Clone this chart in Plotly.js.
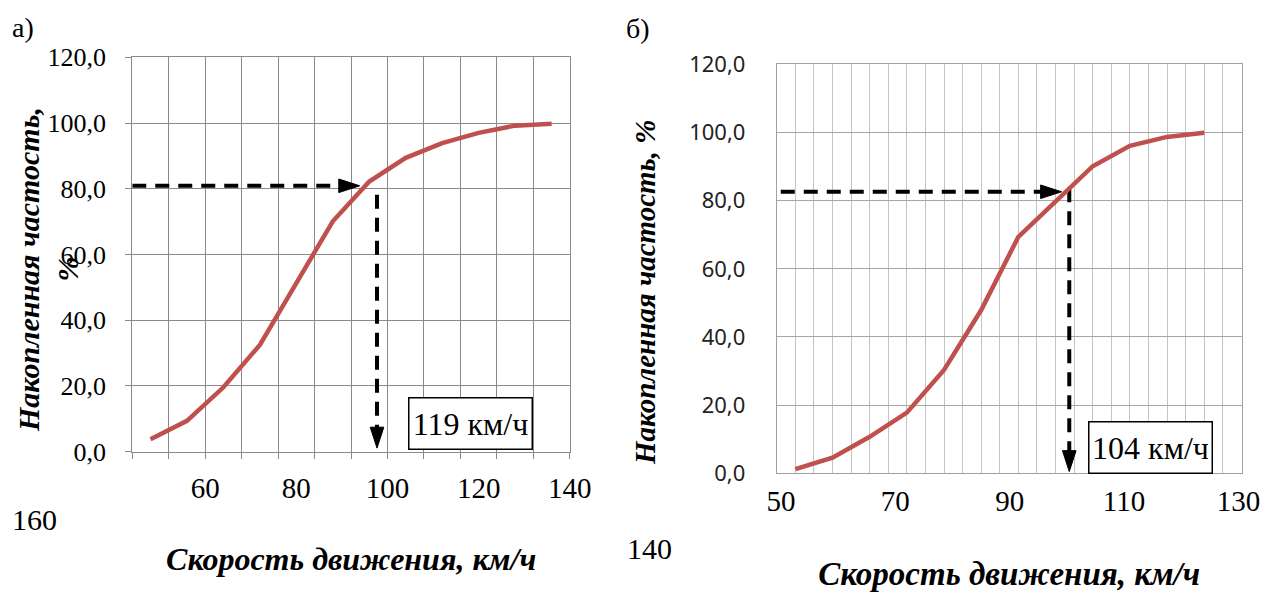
<!DOCTYPE html>
<html>
<head>
<meta charset="utf-8">
<script src="https://cdn.plot.ly/plotly-3.0.1.min.js"></script>
<style>html,body{margin:0;padding:0;background:#fff;}#chart{width:1262px;height:596px;}</style>
</head>
<body>
<div id="chart"></div>
<script>
// ---- data ----
// chart а)
const speedA = [48, 56, 64, 72, 80, 88, 96, 104, 112, 120, 128, 136];
const cumA = [3.8, 9.4, 19.6, 32.5, 51.3, 70.1, 82.2, 89.4, 93.9, 97.0, 99.2, 99.8];
const tickLabelsA = [60, 80, 100, 120, 140];
const orphanLabelA = '160';
const boxTextA = '119 км/ч';
const guideHxA = [44, 93.9], guideHyA = [80.9, 80.9];
const guideVxA = [97.7, 97.7], guideVyA = [78.2, 1.1];
// chart б)
const speedB = [52, 58.5, 65, 71.5, 78, 84.5, 91, 97.5, 104, 110.5, 117, 123.5];
const cumB = [1.2, 4.6, 10.7, 17.8, 30.3, 47.9, 69.4, 79.6, 90.1, 96.1, 98.7, 99.9];
const tickLabelsB = [50, 70, 90, 110, 130];
const orphanLabelB = '140';
const boxTextB = '104 км/ч';
const guideHxB = [49.45, 98.55], guideHyB = [82.6, 82.6];
const guideVxB = [99.9, 99.9], guideVyB = [83.6, 0.5];

const xTitle = 'Скорость движения, км/ч';
const yTitleA = 'Накопленная частость,<br>%';
const yTitleB = 'Накопленная частость, %';

// ---- styles ----
const SERIF = 'Times New Roman, Liberation Serif, DejaVu Serif, serif';
const SANS = 'Noto Sans, Open Sans, sans-serif';
const RED = '#c0504d';
const titleFont = (s) => ({family: SERIF, size: s, color: '#000', weight: 'bold', style: 'italic'});

function guide(x, y, xa, ya) {
  return {
    x: x, y: y, xaxis: xa, yaxis: ya, type: 'scatter', mode: 'lines+markers',
    line: {color: '#000', width: 4, dash: '14px,9px'},
    marker: {symbol: 'arrow', angleref: 'previous', size: [0, 22], color: '#000', opacity: 1,
             line: {width: 1, color: '#000'}},
    hoverinfo: 'skip'
  };
}

const traces = [
  {x: speedA, y: cumA, xaxis: 'x3', yaxis: 'y', type: 'scatter', mode: 'lines',
   line: {color: RED, width: 4.5}},
  guide(guideHxA, guideHyA, 'x', 'y'),
  guide(guideVxA, guideVyA, 'x', 'y'),
  {x: speedB, y: cumB, xaxis: 'x4', yaxis: 'y2', type: 'scatter', mode: 'lines',
   line: {color: RED, width: 4.5}},
  guide(guideHxB, guideHyB, 'x2', 'y2'),
  guide(guideVxB, guideVyB, 'x2', 'y2')
];

const rangeA = [44, 140.05];
const rangeB = [48.75, 130.05];

const layout = {
  width: 1262, height: 596,
  margin: {l: 0, r: 0, t: 0, b: 0},
  paper_bgcolor: '#fff', plot_bgcolor: '#fff',
  showlegend: false,
  separators: ', ',
  font: {family: SERIF, color: '#000'},
  // chart а) grid axis
  xaxis: {
    domain: [0.1048, 0.4517], anchor: 'y', range: rangeA,
    tickmode: 'linear', tick0: 44, dtick: 8, showticklabels: false,
    showgrid: true, gridcolor: '#8a8a8a', gridwidth: 1,
    ticks: 'outside', ticklen: 6, tickcolor: '#8a8a8a', tickwidth: 1,
    showline: true, linecolor: '#8a8a8a', linewidth: 1, mirror: true, zeroline: false
  },
  // chart а) label axis
  xaxis3: {
    overlaying: 'x', anchor: 'y', side: 'bottom', range: rangeA,
    tickmode: 'array', tickvals: tickLabelsA, ticktext: tickLabelsA.map(String),
    showgrid: false, ticks: '', showline: false, zeroline: false,
    ticklabelstandoff: 16, ticklabeloverflow: 'allow',
    tickfont: {family: SERIF, size: 29, color: '#000'},
    title: {text: xTitle, font: titleFont(32), standoff: 44}
  },
  yaxis: {
    domain: [0.2421, 0.9039], anchor: 'x', range: [0, 120],
    tickmode: 'linear', tick0: 0, dtick: 20, tickformat: '.1f',
    showgrid: true, gridcolor: '#8a8a8a', gridwidth: 1,
    ticks: 'outside', ticklen: 6, tickcolor: '#8a8a8a', tickwidth: 1,
    ticklabelstandoff: 14,
    tickfont: {family: SERIF, size: 26, color: '#000'},
    showline: true, linecolor: '#8a8a8a', linewidth: 1, mirror: true, zeroline: false
  },
  // chart б) grid axis
  xaxis2: {
    domain: [0.6155, 0.9839], anchor: 'y2', range: rangeB,
    tickmode: 'linear', tick0: 48.75, dtick: 3.25, showticklabels: false,
    showgrid: true, gridcolor: '#c4c4c4', gridwidth: 1,
    ticks: '', showline: true, linecolor: '#a0a0a0', linewidth: 1, mirror: true, zeroline: false
  },
  // chart б) label axis
  xaxis4: {
    overlaying: 'x2', anchor: 'y2', side: 'bottom', range: rangeB,
    tickmode: 'array', tickvals: tickLabelsB, ticktext: tickLabelsB.map(String),
    showgrid: false, ticks: '', showline: false, zeroline: false,
    ticklabelstandoff: 8, ticklabelshift: -3, ticklabeloverflow: 'allow',
    tickfont: {family: SERIF, size: 29, color: '#000'},
    title: {text: xTitle, font: titleFont(33), standoff: 45}
  },
  yaxis2: {
    domain: [0.2059, 0.8921], anchor: 'x2', range: [0, 120],
    tickmode: 'linear', tick0: 0, dtick: 20, tickformat: '.1f',
    showgrid: true, gridcolor: '#a6a6a6', gridwidth: 1,
    ticks: '', ticklabelstandoff: 26,
    tickfont: {family: SANS, size: 22, color: '#222'},
    showline: true, linecolor: '#a0a0a0', linewidth: 1, mirror: true, zeroline: false
  },
  annotations: [
    {xref: 'paper', yref: 'paper', x: 48 / 1262, y: 1 - 270 / 596, xanchor: 'center', yanchor: 'middle',
     text: yTitleA, textangle: -90, showarrow: false, font: titleFont(30)},
    {xref: 'paper', yref: 'paper', x: 645 / 1262, y: 1 - 292 / 596, xanchor: 'center', yanchor: 'middle',
     text: yTitleB, textangle: -90, showarrow: false, font: titleFont(29)},
    {xref: 'x', yref: 'y', x: 118.3, y: 8.6, xanchor: 'center', yanchor: 'middle',
     text: boxTextA, showarrow: false, font: {family: SERIF, size: 32, color: '#000'},
     bgcolor: '#fff', bordercolor: '#000', borderwidth: 1.5, borderpad: 3, width: 116, height: 44},
    {xref: 'x2', yref: 'y2', x: 114.1, y: 7.7, xanchor: 'center', yanchor: 'middle',
     text: boxTextB, showarrow: false, font: {family: SERIF, size: 32, color: '#000'},
     bgcolor: '#fff', bordercolor: '#000', borderwidth: 1.5, borderpad: 3, width: 116, height: 44},
    {xref: 'paper', yref: 'paper', x: 23 / 1262, y: 1 - 27 / 596, xanchor: 'center', yanchor: 'middle',
     text: 'а)', showarrow: false, font: {family: SERIF, size: 28, color: '#000'}},
    {xref: 'paper', yref: 'paper', x: 638 / 1262, y: 1 - 29 / 596, xanchor: 'center', yanchor: 'middle',
     text: 'б)', showarrow: false, font: {family: SERIF, size: 28, color: '#000'}},
    {xref: 'paper', yref: 'paper', x: 34 / 1262, y: 1 - 519 / 596, xanchor: 'center', yanchor: 'middle',
     text: orphanLabelA, showarrow: false, font: {family: SERIF, size: 30, color: '#000'}},
    {xref: 'paper', yref: 'paper', x: 649 / 1262, y: 1 - 548 / 596, xanchor: 'center', yanchor: 'middle',
     text: orphanLabelB, showarrow: false, font: {family: SERIF, size: 30, color: '#000'}}
  ]
};

Plotly.newPlot('chart', traces, layout, {staticPlot: true, displayModeBar: false});
</script>
</body>
</html>
